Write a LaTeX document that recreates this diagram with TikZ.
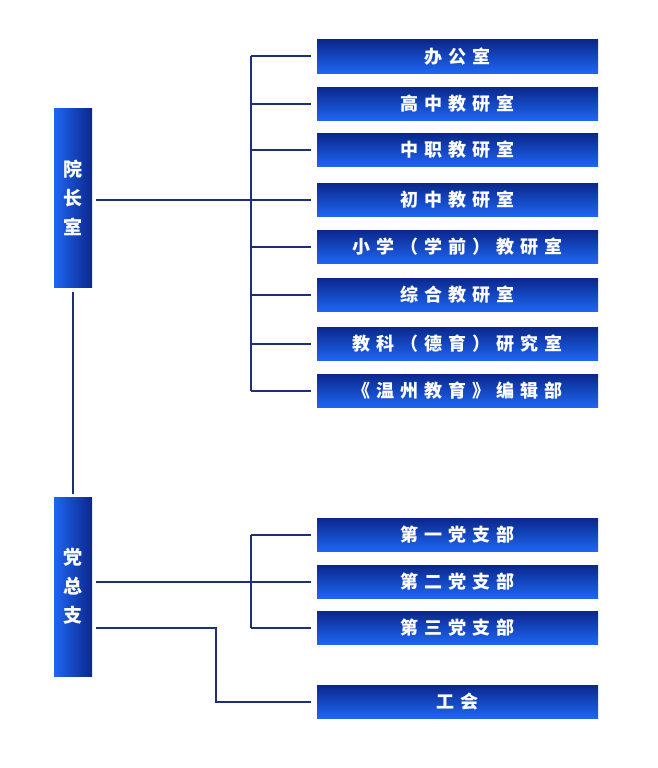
\documentclass[tikz,border=0pt]{standalone}
\usepackage{fontspec}
\newfontfamily\cjk{Noto Sans CJK SC}
\begin{document}
\begin{tikzpicture}[x=1pt,y=-1pt,
  conn/.style={draw=lineblue, line width=2pt},
  rbox/.style={rectangle, minimum width=281pt, minimum height=33pt, inner sep=0pt,
    top color=topblue, bottom color=botblue, text=white, font=\cjk\bfseries\fontsize{18}{20}\selectfont},
  lbox/.style={rectangle, minimum width=38pt, minimum height=179pt, inner sep=0pt,
    left color=botblue, right color=topblue, text=white, align=center,
    font=\cjk\bfseries\fontsize{19}{29}\selectfont}]
\definecolor{lineblue}{HTML}{1C2F78}
\definecolor{topblue}{HTML}{0B278C}
\definecolor{botblue}{HTML}{1E66F2}
\def\g{\hspace{6pt}}
\useasboundingbox (0,0) rectangle (657,768);
% left boxes
\node[lbox] (yz) at (73,197.5) {院\\长\\室};
\node[lbox] (dz) at (73,586.5) {党\\总\\支};
% right boxes
\node[rbox] (b1) at (457.5,56.5) {办\g 公\g 室};
\node[rbox] (b2) at (457.5,103.5) {高\g 中\g 教\g 研\g 室};
\node[rbox] (b3) at (457.5,150) {中\g 职\g 教\g 研\g 室};
\node[rbox] (b4) at (457.5,199.5) {初\g 中\g 教\g 研\g 室};
\node[rbox] (b5) at (457.5,246.5) {小\g 学\g （\g 学\g 前\g ）\g 教\g 研\g 室};
\node[rbox] (b6) at (457.5,294.5) {综\g 合\g 教\g 研\g 室};
\node[rbox] (b7) at (457.5,343.5) {教\g 科\g （\g 德\g 育\g ）\g 研\g 究\g 室};
\node[rbox] (b8) at (457.5,390.5) {《\g 温\g 州\g 教\g 育\g 》\g 编\g 辑\g 部};
\node[rbox] (c1) at (457.5,534.5) {第\g 一\g 党\g 支\g 部};
\node[rbox] (c2) at (457.5,581.5) {第\g 二\g 党\g 支\g 部};
\node[rbox] (c3) at (457.5,627.5) {第\g 三\g 党\g 支\g 部};
\node[rbox] (gh) at (457.5,701.5) {工\g 会};
\coordinate (bus) at (251,0);
\coordinate (jog) at (216,0);
% upper bracket
\foreach \i in {1,...,8} {\draw[conn, shorten <=6pt] (b\i.west) -- (b\i.west -| bus);}
\draw[conn] (b1.west -| bus) -- (b8.west -| bus);
\draw[conn, shorten <=4pt, shorten >=6pt] (yz.east |- b4.west) -- (b4.west);
% link between left boxes
\draw[conn, shorten <=5pt, shorten >=3pt] (yz.south) -- (dz.north);
% lower bracket
\foreach \n in {c1,c2,c3} {\draw[conn, shorten <=6pt] (\n.west) -- (\n.west -| bus);}
\draw[conn] (c1.west -| bus) -- (c3.west -| bus);
\draw[conn, shorten <=4pt, shorten >=6pt] (dz.east |- c2.west) -- (c2.west);
\draw[conn, shorten <=4pt, shorten >=6pt] (dz.east |- c3.west) -- (c3.west -| jog) -- (gh.west -| jog) -- (gh.west);
\end{tikzpicture}
\end{document}
